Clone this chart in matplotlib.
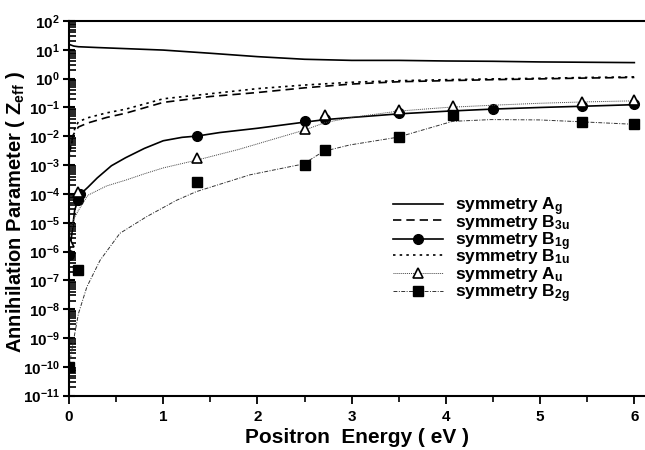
import matplotlib
matplotlib.use("Agg")
import matplotlib.pyplot as plt
from matplotlib.legend import Legend
from matplotlib.legend_handler import HandlerTuple
from matplotlib.ticker import LogLocator, NullFormatter, MultipleLocator

plt.rcParams['font.family'] = ['Liberation Sans', 'DejaVu Sans']
plt.rcParams['font.weight'] = 'bold'
plt.rcParams['mathtext.fontset'] = 'custom'
plt.rcParams['mathtext.rm'] = 'Liberation Sans:bold'
plt.rcParams['mathtext.it'] = 'Liberation Sans:bold'
plt.rcParams['mathtext.bf'] = 'Liberation Sans:bold'
plt.rcParams['mathtext.default'] = 'rm'

# ---- curves (model lines) ----
ag_x = [0, 0.05, 0.1, 0.3, 0.6, 1.0, 1.5, 2.0, 2.5, 3.0, 3.5, 4.0, 4.5, 5.0, 5.5, 6.0]
ag_y = [15.5, 13.5, 12.8, 12.0, 11.0, 9.8, 7.6, 5.8, 4.7, 4.3, 4.3, 4.1, 4.0, 3.8, 3.7, 3.6]

b3u_x = [0, 0.01, 0.03, 0.05, 0.1, 0.2, 0.4, 0.6, 1.0, 1.5, 2.0, 2.5, 3.0, 3.5, 4.0, 4.5, 5.0, 5.5, 6.0]
b3u_y = [2.5e-3, 3.5e-3, 7e-3, 1.2e-2, 2.1e-2, 2.9e-2, 4.5e-2, 6.3e-2, 0.15, 0.24, 0.33, 0.48, 0.65,
         0.78, 0.85, 0.92, 0.98, 1.05, 1.1]

b1u_x = [0, 0.01, 0.03, 0.06, 0.1, 0.2, 0.4, 0.6, 1.0, 1.5, 2.0, 2.5, 3.0, 3.5, 4.0, 4.5, 5.0, 5.5, 6.0]
b1u_y = [2e-3, 3e-3, 6e-3, 1.8e-2, 3.2e-2, 4.4e-2, 6.5e-2, 8.7e-2, 0.2, 0.3, 0.45, 0.6, 0.75,
         0.85, 0.92, 0.98, 1.03, 1.1, 1.15]

b1g_x = [0, 0.03, 0.06, 0.1, 0.15, 0.2, 0.3, 0.45, 0.6, 0.8, 1.0, 1.2, 1.36, 1.6, 2.0, 2.5, 2.72,
         3.0, 3.5, 4.0, 4.5, 5.0, 5.44, 6.0]
b1g_y = [7.6e-7, 4e-6, 2.7e-5, 7e-5, 1.2e-4, 1.7e-4, 3.6e-4, 9.5e-4, 1.8e-3, 3.8e-3, 7e-3, 9.2e-3,
         1.02e-2, 1.35e-2, 1.9e-2, 3.1e-2, 3.8e-2, 4.5e-2, 6e-2, 7.4e-2, 8.8e-2, 0.1, 0.11, 0.125]

au_x = [0, 0.01, 0.05, 0.1, 0.2, 0.4, 0.6, 0.8, 1.0, 1.36, 1.8, 2.2, 2.5, 2.72, 3.0, 3.5, 4.0,
        4.5, 5.0, 5.44, 6.0]
au_y = [2e-6, 3.3e-6, 1.3e-5, 2.7e-5, 9e-5, 1.9e-4, 3e-4, 5e-4, 8e-4, 1.5e-3, 3.5e-3, 8.5e-3,
        1.65e-2, 3e-2, 4.5e-2, 7.5e-2, 0.1, 0.12, 0.14, 0.155, 0.17]

b2g_x = [0, 0.01, 0.05, 0.1, 0.19, 0.33, 0.54, 0.82, 1.14, 1.35, 1.92, 2.49, 2.7, 2.98, 3.49,
         4.07, 4.48, 4.99, 5.42, 6.0]
b2g_y = [1e-10, 1.5e-10, 9e-10, 7e-9, 6e-8, 5e-7, 4.3e-6, 1.6e-5, 6e-5, 1.2e-4, 4.6e-4, 1.1e-3,
         3e-3, 5e-3, 9.3e-3, 3.3e-2, 3.8e-2, 3.7e-2, 3.2e-2, 2.6e-2]

# ---- computed points (markers) ----
b1g_px = [0, 0.1, 0.12, 1.36, 2.5, 2.72, 3.5, 4.5, 5.44, 6.0]
b1g_py = [7.6e-7, 6e-5, 1e-4, 1.02e-2, 3.4e-2, 4e-2, 6.6e-2, 9e-2, 0.11, 0.13]

au_px = [0, 0.1, 1.36, 2.5, 2.72, 3.5, 4.08, 5.44, 6.0]
au_py = [2.2e-6, 1.2e-4, 1.8e-3, 1.8e-2, 5.5e-2, 8.5e-2, 0.11, 0.16, 0.18]

b2g_px = [0, 0.1, 1.36, 2.5, 2.72, 3.5, 4.08, 5.44, 6.0]
b2g_py = [1e-10, 2.3e-7, 2.7e-4, 1e-3, 3.4e-3, 9.3e-3, 5.5e-2, 3.2e-2, 2.6e-2]

labels = ['symmetry A$_{g}$', 'symmetry B$_{3u}$', 'symmetry B$_{1g}$',
          'symmetry B$_{1u}$', 'symmetry A$_{u}$', 'symmetry B$_{2g}$']

fig = plt.figure(figsize=(6.45, 4.5), dpi=100)
ax = fig.add_axes([69 / 645, 1 - 395.7 / 450, 1 - 69 / 645 + 0.001, (395.7 - 21) / 450])

l_ag, = ax.plot(ag_x, ag_y, color='black', lw=1.2)
l_b3u, = ax.plot(b3u_x, b3u_y, color='black', lw=1.2, dashes=(5, 3))
l_b1g, = ax.plot(b1g_x, b1g_y, color='black', lw=1.2)
m_b1g, = ax.plot(b1g_px, b1g_py, 'o', color='black', ms=7, ls='none')
l_b1u, = ax.plot(b1u_x, b1u_y, color='black', lw=1.2, dashes=(1.5, 2.5))
l_au, = ax.plot(au_x, au_y, color='#444444', lw=0.7, dashes=(1, 1))
m_au, = ax.plot(au_px, au_py, '^', mfc='white', mec='black', mew=1.2, ms=7.5, ls='none')
l_b2g, = ax.plot(b2g_x, b2g_y, color='#333333', lw=0.7, dashes=(4, 1.5, 1, 1.5))
m_b2g, = ax.plot(b2g_px, b2g_py, 's', color='black', ms=6.5, ls='none')

ax.set_yscale('log')
ax.set_ylim(1e-11, 1e2)
ax.set_xlim(0, 6.12)
ax.yaxis.set_major_locator(LogLocator(base=10, numticks=20))
ax.yaxis.set_minor_locator(LogLocator(base=10, subs=range(2, 10), numticks=200))
ax.yaxis.set_minor_formatter(NullFormatter())
ax.xaxis.set_major_locator(MultipleLocator(1))
ax.xaxis.set_minor_locator(MultipleLocator(0.5))

for s in ax.spines.values():
    s.set_linewidth(1.5)
ax.spines['right'].set_visible(False)

ax.tick_params(axis='y', which='major', direction='inout', length=9, width=1.5, labelsize=11, pad=2)
ax.tick_params(axis='y', which='minor', direction='in', length=5, width=1.2)
ax.tick_params(axis='x', which='major', direction='out', length=6, width=1.3, labelsize=11, pad=4)
ax.tick_params(axis='x', which='minor', direction='out', length=4, width=1.2)

ax.set_xlabel('Positron  Energy ( eV )', fontsize=15, fontweight='bold', labelpad=3)
ax.set_ylabel('Annihilation Parameter ( Z$_{eff}$ )', fontsize=14.5, fontweight='bold')
ax.yaxis.set_label_coords(-0.072, 0.49)

# legend: one row per entry at a fixed 17.5 px pitch, top-aligned so rows stay even
handles = [l_ag, l_b3u, (l_b1g, m_b1g), l_b1u, (l_au, m_au), (l_b2g, m_b2g)]
for i, (h, lab) in enumerate(zip(handles, labels)):
    lg = Legend(ax, [h], [lab], handler_map={tuple: HandlerTuple(ndivide=1)},
                loc='upper left', bbox_to_anchor=(393 / 645, 1 - (195 + 17.5 * i) / 450),
                bbox_transform=fig.transFigure, frameon=False,
                handlelength=2.9, handletextpad=0.7, borderpad=0, borderaxespad=0,
                prop={'weight': 'bold', 'size': 12.5})
    ax.add_artist(lg)

fig.savefig('out.png', dpi=100)
